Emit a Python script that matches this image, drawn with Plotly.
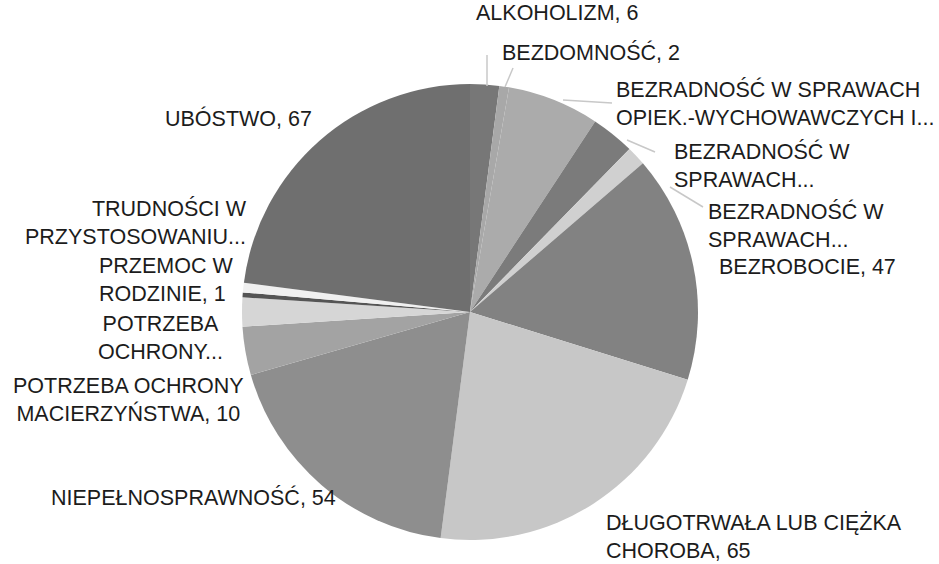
import plotly.graph_objects as go

# ---- data (clockwise from 12 o'clock) ----
categories = [
    "ALKOHOLIZM",
    "BEZDOMNOŚĆ",
    "BEZRADNOŚĆ W SPRAWACH<br>OPIEK.-WYCHOWAWCZYCH I...",
    "BEZRADNOŚĆ W<br>SPRAWACH...",
    "BEZRADNOŚĆ W<br>SPRAWACH...",
    "BEZROBOCIE",
    "DŁUGOTRWAŁA LUB CIĘŻKA<br>CHOROBA",
    "NIEPEŁNOSPRAWNOŚĆ",
    "POTRZEBA OCHRONY<br>MACIERZYŃSTWA",
    "POTRZEBA<br>OCHRONY...",
    "PRZEMOC W<br>RODZINIE",
    "TRUDNOŚCI W<br>PRZYSTOSOWANIU...",
    "UBÓSTWO",
]
values = [6, 2, 19, 9, 4, 47, 65, 54, 10, 6, 1, 2, 67]
show_value = [True, True, False, False, False, True, True, True, True, False, True, False, True]

# ---- styles ----
colors = ["#777777", "#a8a8a8", "#ababab", "#7b7b7b", "#d0d0d0", "#828282",
          "#c7c7c7", "#8e8e8e", "#a3a3a3", "#d6d6d6", "#555555", "#f0f0f0", "#6f6f6f"]

W, H = 939, 564
def px(x):
    return x / W
def py(y):
    return 1 - y / H

# label placement (pixel x, pixel y of block centre, anchor, align)
label_pos = [
    (474, 13, "left", "left"),
    (500, 52, "left", "left"),
    (614, 103, "left", "left"),
    (672, 165, "left", "left"),
    (706, 225, "left", "left"),
    (717, 267, "left", "left"),
    (604, 537, "left", "left"),
    (338, 497, "right", "right"),
    (128, 400, "center", "center"),
    (160, 338, "center", "center"),
    (97, 280, "left", "left"),
    (249, 223, "right", "right"),
    (163, 118, "left", "left"),
]

fig = go.Figure(go.Pie(
    labels=[c.replace("<br>", " ") + f" #{i}" for i, c in enumerate(categories)],
    values=values,
    sort=False,
    direction="clockwise",
    rotation=0,
    textinfo="none",
    hoverinfo="label+value",
    marker=dict(colors=colors, line=dict(width=0)),
    domain=dict(x=[px(242), px(698)], y=[24 / H, 480 / H]),
    showlegend=False,
))

annotations = []
for cat, v, sv, (x, y, anc, al) in zip(categories, values, show_value, label_pos):
    text = cat + (f", {v}" if sv else "")
    annotations.append(dict(
        x=px(x), y=py(y), xref="paper", yref="paper",
        xanchor=anc, yanchor="middle", align=al,
        text=text, showarrow=False,
        font=dict(family="Liberation Sans, Arial, sans-serif", size=21.5, color="#1c1c1c"),
    ))

leaders = [
    ((487, 86), (487, 55)),
    ((505, 87), (513, 68)),
    ((563, 100), (612, 103)),
    ((627, 140), (655, 152)),
    ((670, 187), (703, 207)),
]
shapes = []
for (x0, y0), (x1, y1) in leaders:
    shapes.append(dict(type="line", xref="paper", yref="paper",
                       x0=px(x0), y0=py(y0), x1=px(x1), y1=py(y1),
                       line=dict(color="#c8c8c8", width=1.5)))

fig.update_layout(
    width=W, height=H,
    margin=dict(l=0, r=0, t=0, b=0),
    paper_bgcolor="white", plot_bgcolor="white",
    annotations=annotations,
    shapes=shapes,
)

fig.write_html(
    "out.html",
    config={"displayModeBar": False},
    post_script="document.body.style.margin='0px';document.body.style.overflow='hidden';",
)
